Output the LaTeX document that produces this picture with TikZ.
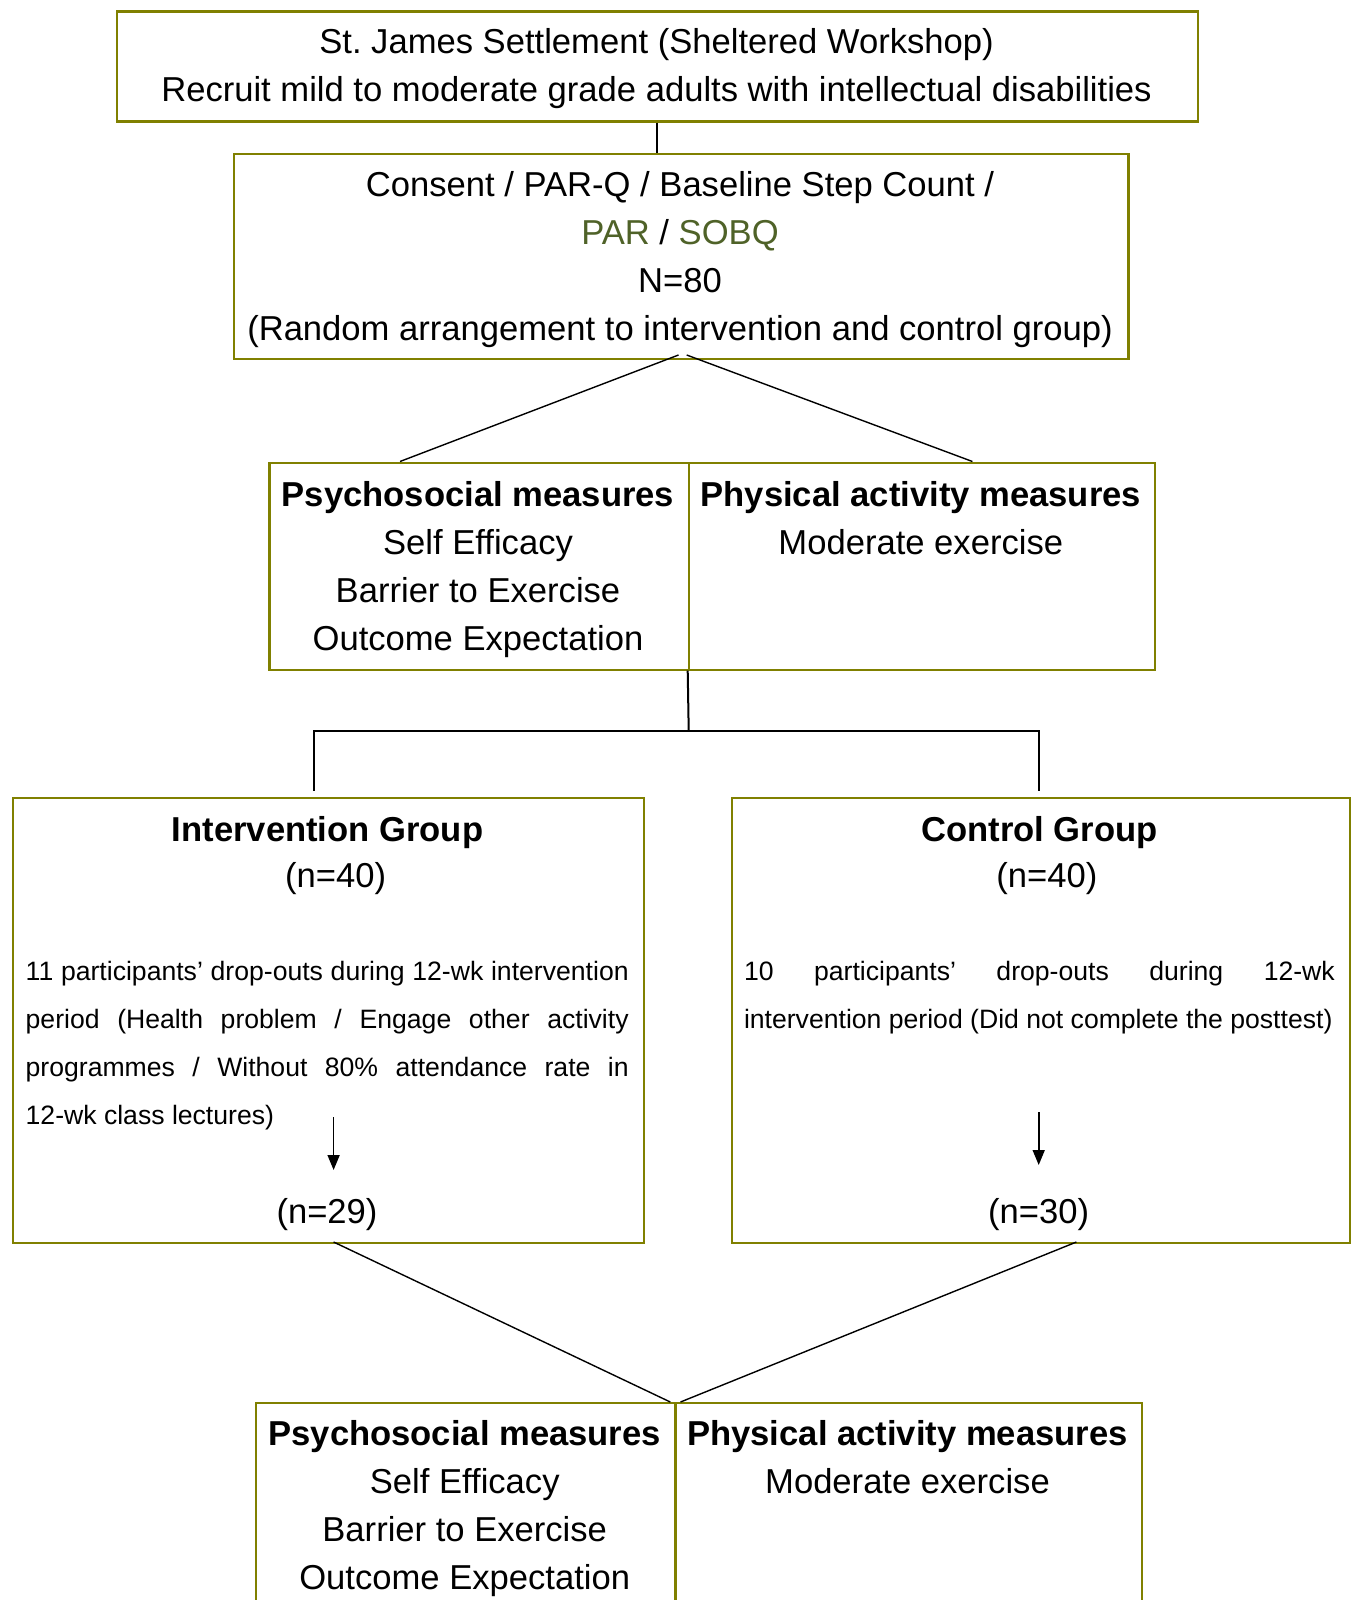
\documentclass[tikz,border=0pt]{standalone}
\usepackage{fontspec}
\setmainfont{Liberation Sans}
\usetikzlibrary{arrows.meta}
\frenchspacing
\definecolor{olivebox}{RGB}{128,128,0}
\definecolor{darkolive}{RGB}{79,98,40}
\newcommand\bigf{\fontsize{34.6}{48}\selectfont}
\newcommand\smallf{\fontsize{26.6}{48}\selectfont}
\begin{document}
\begin{tikzpicture}[x=1pt,y=-1pt,
  box/.style={draw=olivebox, line width=2.2pt, anchor=north west, inner sep=0pt},
  bigtxt/.style={font=\bigf, align=center, inner sep=0pt, anchor=base},
  smalltxt/.style={font=\smallf, align=left, inner sep=0pt, anchor=base west},
  trunk/.style={line width=2pt, black},
  link/.style={line width=1.4pt, black},
  arr/.style={line width=1.7pt, black, -{Triangle[length=15pt,width=12pt]}}]
\useasboundingbox (0,0) rectangle (1357,1600);
\clip (0,0) rectangle (1357,1600);
\fill[white] (0,0) rectangle (1357,1600);

% boxes
\node[box, minimum width=1080.5pt, minimum height=110pt] (top) at (116,10.5) {};
\node[box, minimum width=894.8pt, minimum height=205pt] (cons) at (232.6,153) {};
\node[box, minimum width=419.4pt, minimum height=207pt] (psy1) at (268.3,461.5) {};
\node[box, minimum width=466.3pt, minimum height=207pt] (phy1) at (687.7,461.5) {};
\node[box, minimum width=630.6pt, minimum height=445pt] (int) at (12.2,797) {};
\node[box, minimum width=618.3pt, minimum height=445pt] (ctl) at (730.5,797) {};
\node[box, minimum width=419.4pt, minimum height=240pt] (psy2) at (255,1402) {};
\node[box, minimum width=466.3pt, minimum height=240pt] (phy2) at (674.4,1402) {};

% texts (base anchor = baseline of the last line)
\node[bigtxt] (t1) at (656.5,101.5) {St.\ James Settlement (Sheltered Workshop)\\Recruit mild to moderate grade adults with intellectual disabilities};
\node[bigtxt] (t2) at (680,340) {Consent / PAR-Q / Baseline Step Count /\\\textcolor{darkolive}{PAR} / \textcolor{darkolive}{SOBQ}\\N=80\\(Random arrangement to intervention and control group)};
\node[bigtxt] (t3) at (478,650) {\textbf{Psychosocial measures}\\Self Efficacy\\Barrier to Exercise\\Outcome Expectation};
\node[bigtxt] (t4) at (920.8,554) {\textbf{Physical activity measures}\\Moderate exercise};
\node[bigtxt] (t5) at (327.5,841) {\textbf{Intervention Group}};
\node[bigtxt] (t6) at (335.7,887) {(n=40)};
\node[smalltxt] (t7) at (25.5,1124) {\makebox[603pt][s]{11 participants’ drop-outs during 12-wk intervention}\\\makebox[603pt][s]{period (Health problem / Engage other activity}\\\makebox[603pt][s]{programmes / Without 80\% attendance rate in}\\12-wk class lectures)};
\node[bigtxt] (t8) at (327,1223) {(n=29)};
\node[bigtxt] (t9) at (1039.5,841) {\textbf{Control Group}};
\node[bigtxt] (t10) at (1046.8,887) {(n=40)};
\node[smalltxt] (t11) at (743.8,1028) {\makebox[590.8pt][s]{10 participants’ drop-outs during 12-wk}\\intervention period (Did not complete the posttest)};
\node[bigtxt] (t12) at (1038.7,1223) {(n=30)};
\node[bigtxt] (t13) at (464.7,1589) {\textbf{Psychosocial measures}\\Self Efficacy\\Barrier to Exercise\\Outcome Expectation};
\node[bigtxt] (t14) at (907.5,1493) {\textbf{Physical activity measures}\\Moderate exercise};

% connectors
\draw[trunk] (top.south) -- (top.south |- cons.north);

\coordinate (s1) at (678.5,355);
\coordinate (e1) at (400,461.5);
\coordinate (s2) at (686.7,355);
\coordinate (e2) at (972.4,461.5);
\draw[link] (s1) -- (e1);
\draw[link] (s2) -- (e2);

\coordinate (d1) at (688.7,730.5);
\coordinate (hl) at (314,730.5);
\coordinate (hr) at (1038.7,730.5);
\coordinate (gl) at (314,790.7);
\coordinate (gr) at (1038.7,790.7);
\draw[trunk] (phy1.south west) -- (d1);
\draw[trunk] (gl) -- (hl) -- (hr) -- (gr);

\coordinate (a1) at (333.6,1117);
\coordinate (a2) at (333.6,1170);
\coordinate (a3) at (1038.7,1112);
\coordinate (a4) at (1038.7,1165);
\draw[arr] (a1) -- (a2);
\draw[arr] (a3) -- (a4);

\coordinate (b1) at (333.6,1242);
\coordinate (b2) at (670.3,1402);
\coordinate (b3) at (1076.4,1242);
\coordinate (b4) at (680.5,1402);
\draw[link] (b1) -- (b2);
\draw[link] (b3) -- (b4);
\end{tikzpicture}
\end{document}
